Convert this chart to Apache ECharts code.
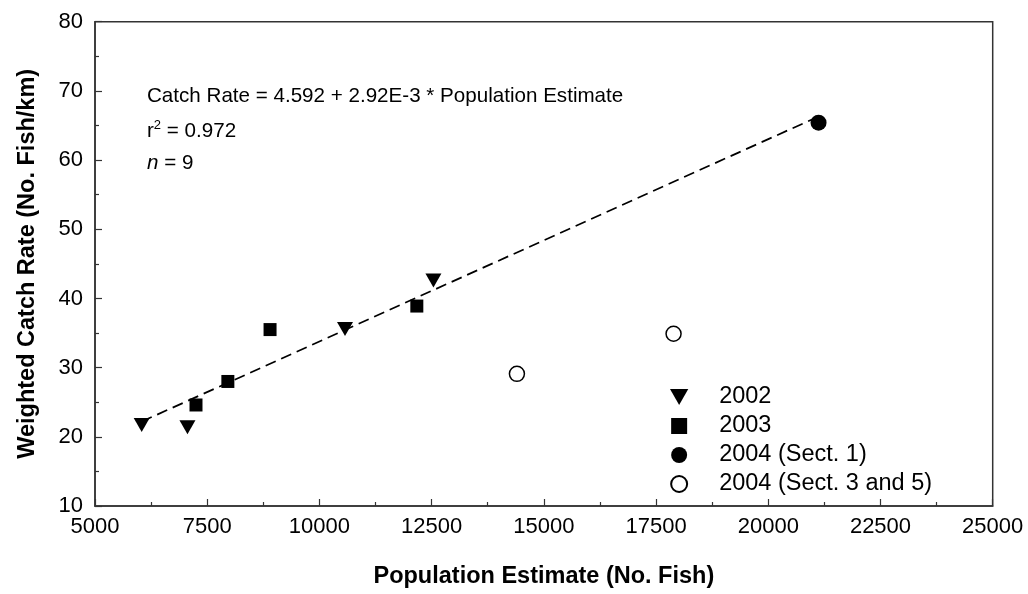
<!DOCTYPE html>
<html>
<head>
<meta charset="utf-8">
<script src="https://cdn.jsdelivr.net/npm/echarts@6/dist/echarts.min.js"></script>
<style>html,body{margin:0;padding:0;background:#fff}#c{width:1028px;height:594px}</style>
</head>
<body>
<div id="c"></div>
<script>
// ---- data ----
var xTicks = [5000, 7500, 10000, 12500, 15000, 17500, 20000, 22500, 25000];
var yTicks = [10, 20, 30, 40, 50, 60, 70, 80];
var seriesNames = ['2002', '2003', '2004 (Sect. 1)', '2004 (Sect. 3 and 5)'];
var pts2002 = [[6040, 21.7], [7060, 21.4], [10570, 35.6], [12540, 42.6]];
var pts2003 = [[7250, 24.6], [7960, 28.0], [8900, 35.5], [12170, 38.9]];
var pts2004s1 = [[21120, 65.4]];
var pts2004s35 = [[14400, 29.1], [17890, 34.9]];
var fitLine = [[6040, 22.2], [21120, 66.3]];
var annot = ['Catch Rate = 4.592 + 2.92E-3 * Population Estimate', '0.972', '9'];
var xTitle = 'Population Estimate (No. Fish)';
var yTitle = 'Weighted Catch Rate (No. Fish/km)';

var FONT = "'Liberation Sans', Arial, Helvetica, sans-serif";
var FS_TICK = 22, FS_TITLE = 23.5, FS_LEG = 23.5, FS_ANN = 20.6;
var tri = 'path://M0,0L2,0L1,1.75Z';
var sq = 'path://M0,0L1,0L1,1L0,1Z';

var chart = echarts.init(document.getElementById('c'));
var axisCommon = {
  type: 'value',
  axisLine: {show: true, lineStyle: {color: '#333', width: 1.5}},
  axisTick: {show: true, inside: true, length: 7, lineStyle: {color: '#333', width: 1.2}},
  minorTick: {show: true, splitNumber: 2, length: 4, lineStyle: {color: '#333', width: 1.2}},
  splitLine: {show: false},
  nameLocation: 'middle',
  nameTextStyle: {color: '#000', fontSize: FS_TITLE, fontWeight: 'bold', fontFamily: FONT}
};
function lab(margin) {
  return {color: '#000', fontSize: FS_TICK, fontFamily: FONT, margin: margin,
          formatter: function (v) { return String(v); }};
}
var option = {
  animation: false,
  backgroundColor: '#fff',
  grid: {left: 95, top: 21.7, right: 35.3, bottom: 85.7, show: true, borderColor: '#333', borderWidth: 1.5, backgroundColor: 'transparent'},
  xAxis: Object.assign({}, axisCommon, {
    min: xTicks[0], max: xTicks[xTicks.length - 1], interval: xTicks[1] - xTicks[0],
    name: xTitle, nameGap: 59, axisLabel: lab(10)
  }),
  yAxis: Object.assign({}, axisCommon, {
    min: yTicks[0], max: yTicks[yTicks.length - 1], interval: yTicks[1] - yTicks[0],
    name: yTitle, nameGap: 55, axisLabel: lab(12)
  }),
  legend: {
    data: [
      {name: seriesNames[0], icon: tri},
      {name: seriesNames[1], icon: sq},
      {name: seriesNames[2]},
      {name: seriesNames[3]}
    ],
    orient: 'vertical', left: 665, top: 380,
    itemWidth: 70, itemHeight: 16, itemGap: 5,
    textStyle: {color: '#000', fontSize: FS_LEG, fontFamily: FONT},
    selectedMode: false
  },
  graphic: [
    {type: 'text', left: 147, top: 86, style: {text: annot[0], font: FS_ANN + 'px ' + FONT, fill: '#000'}},
    {type: 'text', left: 147, top: 119, style: {
      text: '{a|r}{s|2}{a| = ' + annot[1] + '}',
      rich: {a: {fontSize: FS_ANN, fontFamily: FONT, lineHeight: 24, fill: '#000'},
             s: {fontSize: 13, fontFamily: FONT, lineHeight: 14, verticalAlign: 'top', fill: '#000'}}
    }},
    {type: 'text', left: 147, top: 153, style: {
      text: '{i|n}{a| = ' + annot[2] + '}',
      rich: {a: {fontSize: FS_ANN, fontFamily: FONT, fill: '#000'},
             i: {fontSize: FS_ANN, fontFamily: FONT, fontStyle: 'italic', fill: '#000'}}
    }}
  ],
  series: [
    {type: 'line', data: fitLine, showSymbol: false, symbol: 'none', silent: true,
     lineStyle: {color: '#000', width: 1.7, type: [11, 6]}, z: 1},
    {name: seriesNames[0], type: 'scatter', data: pts2002, symbol: tri, symbolSize: [16, 14],
     itemStyle: {color: '#000', opacity: 1}, z: 3},
    {name: seriesNames[1], type: 'scatter', data: pts2003, symbol: sq, symbolSize: 13,
     itemStyle: {color: '#000', opacity: 1}, z: 3},
    {name: seriesNames[2], type: 'scatter', data: pts2004s1, symbol: 'circle', symbolSize: 16,
     itemStyle: {color: '#000', opacity: 1}, z: 3},
    {name: seriesNames[3], type: 'scatter', data: pts2004s35, symbol: 'circle', symbolSize: 15,
     itemStyle: {color: '#fff', borderColor: '#000', borderWidth: 1.5, opacity: 1}, z: 3}
  ]
};
chart.setOption(option);
</script>
</body>
</html>
